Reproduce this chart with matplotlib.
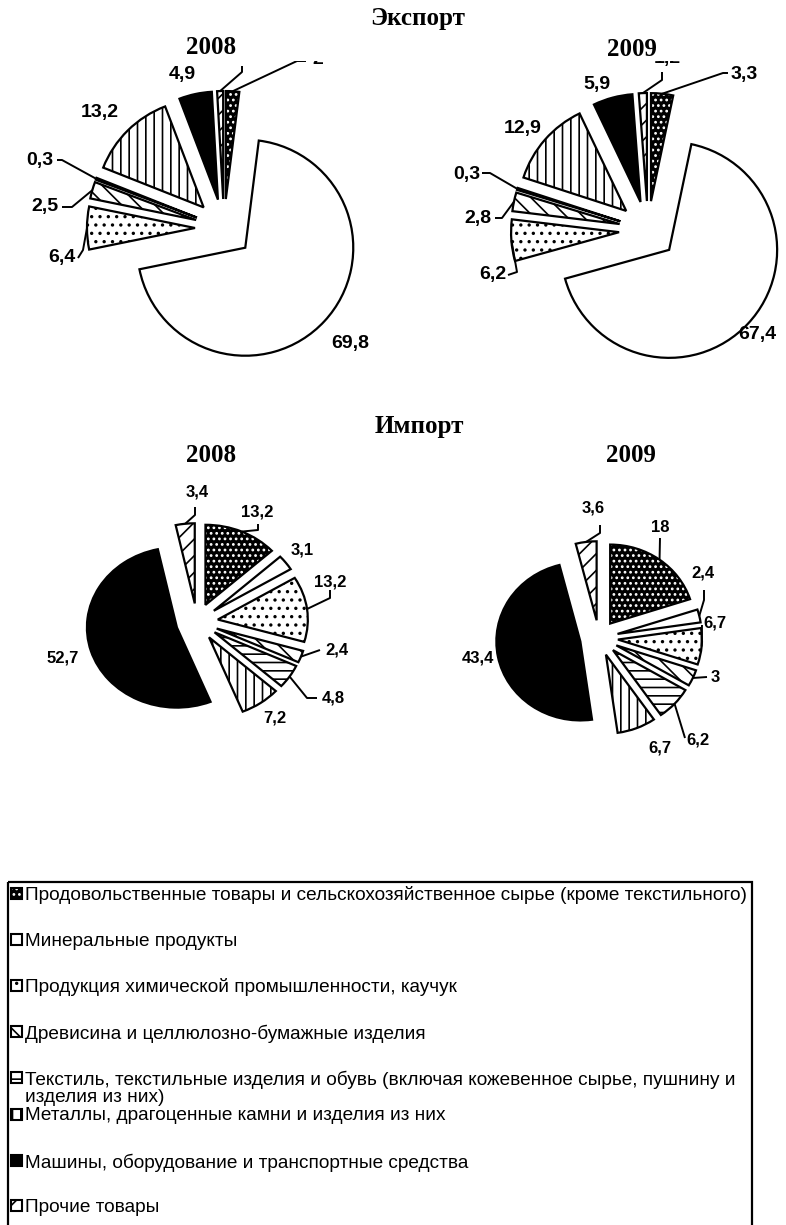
import matplotlib
matplotlib.use("Agg")
import matplotlib.pyplot as plt
from matplotlib.patches import Rectangle
import numpy as np

plt.rcParams['hatch.linewidth'] = 1.2

# ---- data -------------------------------------------------------------
categories = [
    "Продовольственные товары и сельскохозяйственное сырье (кроме текстильного)",
    "Минеральные продукты",
    "Продукция химической промышленности, каучук",
    "Древисина и целлюлозно-бумажные изделия",
    "Текстиль, текстильные изделия и обувь (включая кожевенное сырье, пушнину и\nизделия из них)",
    "Металлы, драгоценные камни и изделия из них",
    "Машины, оборудование и транспортные средства",
    "Прочие товары",
]
export_2008 = [2, 69.8, 6.4, 2.5, 0.3, 13.2, 4.9, 0.9]
export_2009 = [3.3, 67.4, 6.2, 2.8, 0.3, 12.9, 5.9, 1.2]
import_2008 = [13.2, 3.1, 13.2, 2.4, 4.8, 7.2, 52.7, 3.4]
import_2009 = [18, 2.4, 6.7, 3, 6.2, 6.7, 43.4, 3.6]

# ---- styles (face, hatch, hatch colour) -------------------------------
styles = [
    ('black', '...', 'white'),
    ('white', None, 'black'),
    ('white', '..', 'black'),
    ('white', '\\\\', 'black'),
    ('white', '--', 'black'),
    ('white', '||', 'black'),
    ('black', None, 'black'),
    ('white', '//', 'black'),
]

W, H = 786, 1225
fig = plt.figure(figsize=(W / 100, H / 100), dpi=100)


def px_axes(x0, y0, x1, y1):
    return fig.add_axes([x0 / W, 1 - y1 / H, (x1 - x0) / W, (y1 - y0) / H])


def fmt(v):
    return ('%g' % v).replace('.', ',')


# label offsets from pie centre in pixels (y up) and leader line points
exp08_pos = [(94, 169), (126, -116), (-162, -30), (-179, 21), (-184, 68), (-124, 116), (-42, 153), (28, 176)]
exp08_lead = [[(73, 167), (82, 167)], None, [(-141, -22), (-146, -30)], [(-152, 21), (-162, 21)],
              [(-162, 68), (-167, 68)], None, None, [(18, 156), (18, 162)]]
exp09_pos = [(96, 155), (109, -105), (-155, -45), (-170, 12), (-181, 55), (-125, 102), (-51, 145), (19, 172)]
exp09_lead = [[(75, 157), (80, 157)], None, [(-131, -42), (-140, -45)], [(-146, 12), (-153, 12)],
              [(-158, 57), (-166, 57)], None, None, [(14, 150), (14, 158)]]
imp08_pos = [(60, 110), (105, 72), (133, 40), (140, -28), (136, -76), (78, -96), (-134, -36), (0, 130)]
imp08_lead = [[(61, 92), (61, 98)], None, [(133, 24), (133, 32)], [(123, -28)], [(110, -76), (120, -76)],
              None, None, [(-2, 107), (-2, 115)]]
imp09_pos = [(61, 111), (104, 65), (116, 15), (116, -39), (99, -102), (61, -110), (-121, -20), (-6, 130)]
imp09_lead = [[(61, 100)], [(105, 38), (105, 48)], [(103, 13)], [(108, -39)], [(86, -100)], None, None,
              [(1, 105), (1, 113)]]


def draw_pie(values, box, centre, R, expl, sy, pos, lead, fsize):
    x0, y0, x1, y1 = box
    cx, cy = centre
    ax = px_axes(x0, y0, x1, y1)
    ex = [expl] * len(values)
    fills, _ = ax.pie(values, radius=R, startangle=90, counterclock=False, explode=ex)
    for w, (face, hatch, hc) in zip(fills, styles):
        w.set_facecolor(face)
        w.set_hatch(hatch)
        w.set_edgecolor(hc)
        w.set_linewidth(0)
    outl, _ = ax.pie(values, radius=R, startangle=90, counterclock=False, explode=ex,
                     wedgeprops=dict(fill=False, edgecolor='black', linewidth=1.6))
    ax.set_xlim(x0 - cx, x1 - cx)
    ax.set_ylim((cy - y1) / sy, (cy - y0) / sy)
    ax.set_aspect('auto')
    ax.axis('off')
    for w, v, p, ld in zip(outl, values, pos, lead):
        ax.text(p[0], p[1] / sy, fmt(v), ha='center', va='center', fontsize=fsize,
                fontweight='bold', family='Liberation Sans', clip_on=True, zorder=5)
        if ld:
            tm = np.radians((w.theta1 + w.theta2) / 2)
            xs = [w.center[0] + R * np.cos(tm)] + [q[0] for q in ld]
            ys = [w.center[1] + R * np.sin(tm)] + [q[1] / sy for q in ld]
            ax.plot(xs, ys, color='black', lw=1.4, solid_capstyle='butt', zorder=4)
    return ax


draw_pie(export_2008, (0, 61, 420, 400), (224, 228), 108, 29, 1.0, exp08_pos, exp08_lead, 14)
draw_pie(export_2009, (420, 61, 786, 400), (648, 230), 108, 29, 1.0, exp09_pos, exp09_lead, 14)
draw_pie(import_2008, (0, 470, 400, 790), (197, 622), 90, 21, 0.89, imp08_pos, imp08_lead, 12)
draw_pie(import_2009, (400, 470, 786, 790), (599, 638), 84, 19, 0.94, imp09_pos, imp09_lead, 12)

# ---- titles -----------------------------------------------------------
def ftext(x, y, s):
    fig.text(x / W, 1 - y / H, s, ha='center', va='center', fontsize=18,
             fontweight='bold', family='Liberation Serif')


ftext(418, 19, 'Экспорт')
ftext(211, 48, '2008')
ftext(632, 49, '2009')
ftext(419, 427, 'Импорт')
ftext(211, 455, '2008')
ftext(631, 455, '2009')

# ---- legend box -------------------------------------------------------
leg = px_axes(0, 870, W, H)
leg.set_xlim(0, W)
leg.set_ylim(H, 870)
leg.axis('off')
leg.add_patch(Rectangle((8, 882), 744, 360, fill=False, lw=1.6, edgecolor='black'))
row_y = [893, 939, 985, 1031, 1077, 1114, 1160, 1205]
for name, (face, hatch, hc), y in zip(categories, styles, row_y):
    leg.add_patch(Rectangle((11, y - 5.5), 11, 11, facecolor=face, hatch=hatch, edgecolor=hc, lw=0))
    leg.add_patch(Rectangle((11, y - 5.5), 11, 11, fill=False, edgecolor='black', lw=1.5))
    leg.text(25, y - 6.5, name, ha='left', va='top', fontsize=13.7, family='Liberation Sans',
             linespacing=1.0)

plt.savefig('out.png', dpi=100)
